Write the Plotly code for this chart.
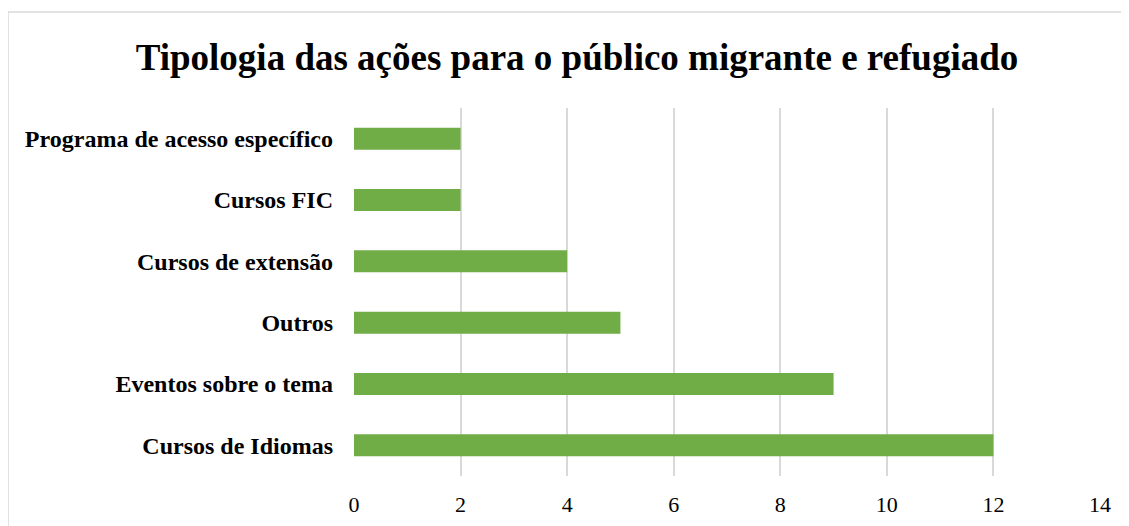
import plotly.graph_objects as go

categories = ["Cursos de Idiomas", "Eventos sobre o tema", "Outros",
              "Cursos de extensão", "Cursos FIC", "Programa de acesso específico"]
values = [12, 9, 5, 4, 2, 2]
tick_vals = [0, 2, 4, 6, 8, 10, 12, 14]
title_text = "Tipologia das ações para o público migrante e refugiado"

# page is rendered with an 8px body margin, so figure coords = screen - 8
OFF = 8
W, H = 1129, 526
ml, mr, mt, mb = 354 - OFF, 1129 - (1100 - OFF), 108 - OFF, 526 - (476 - OFF)
pw, ph = W - ml - mr, H - mt - mb

def px_to_paper_x(px):
    return (px - OFF - ml) / pw

def px_to_paper_y(py):
    return (H - mb - (py - OFF)) / ph

FONT = "Liberation Serif, Times New Roman, serif"

fig = go.Figure(go.Bar(
    y=categories, x=values, orientation="h",
    marker=dict(color="#70AD47", line=dict(width=0)),
    hoverinfo="x+y",
))

fig.update_layout(
    width=W, height=H,
    margin=dict(l=ml, r=mr, t=mt, b=mb),
    paper_bgcolor="white", plot_bgcolor="white",
    bargap=0.64,
    showlegend=False,
    title=dict(text="<b>" + title_text + "</b>", x=(577 - OFF) / W, xref="container",
               xanchor="center", y=1 - (57 - OFF) / H, yref="container", yanchor="middle",
               font=dict(family=FONT, size=37, color="black")),
    xaxis=dict(range=[0, 14], tickvals=tick_vals, showgrid=True, gridcolor="#D9D9D9",
               gridwidth=1.5, zeroline=False, showline=False, ticks="",
               tickfont=dict(family=FONT, size=22, color="black"),
               ticklabelstandoff=13),
    yaxis=dict(categoryorder="array", categoryarray=categories, showgrid=False,
               zeroline=False, showline=False, ticks="",
               tickfont=dict(family=FONT, size=24, color="black"),
               ticklabelstandoff=20),
    shapes=[dict(type="rect", xref="paper", yref="paper",
                 x0=px_to_paper_x(8), x1=px_to_paper_x(1160),
                 y0=px_to_paper_y(560), y1=px_to_paper_y(12),
                 line=dict(color="#D9D9D9", width=1.5), fillcolor="rgba(0,0,0,0)", layer="below")],
)
fig.update_yaxes(ticktext=["<b>" + c + "</b>" for c in categories], tickvals=categories)

fig.write_html("out.html")
